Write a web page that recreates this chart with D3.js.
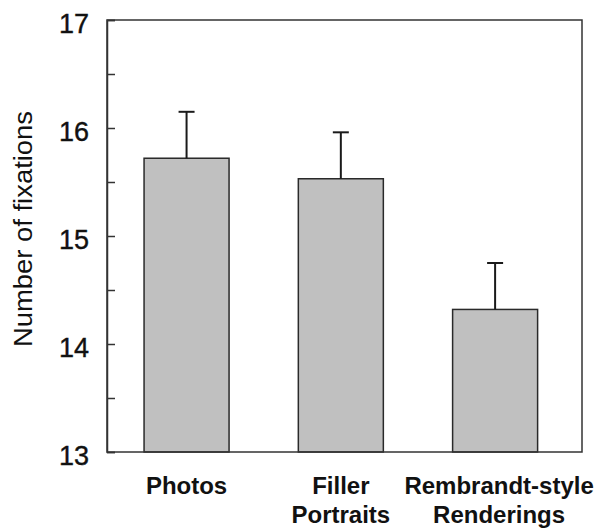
<!DOCTYPE html>
<html><head><meta charset="utf-8">
<script src="https://cdn.jsdelivr.net/npm/d3@7"></script>
<style>body{margin:0;background:#fff}svg{display:block}</style>
</head><body>
<svg id="c" width="600" height="529"></svg>
<script>
const categories = [["Photos"], ["Filler", "Portraits"], ["Rembrandt-style", "Renderings"]];
const means = [15.72, 15.53, 14.32];
const errors = [0.43, 0.43, 0.43];
const yTicks = [13, 14, 15, 16, 17];
const yMinorTicks = [13.5, 14.5, 15.5, 16.5];
const yTitle = "Number of fixations";

const svg = d3.select("#c");
const L = 107, R = 582, T = 20, B = 452;
const keys = categories.map(c => c.join(" "));
const y = d3.scaleLinear().domain([13, 17]).range([B, T]);
const x = d3.scaleBand().domain(keys).range([L, R]).paddingInner(0.449).paddingOuter(0.264).align(0.455);

// bars
svg.selectAll("rect.bar").data(means).join("rect")
  .attr("x", (d, i) => x(keys[i])).attr("width", x.bandwidth())
  .attr("y", d => y(d)).attr("height", d => y(13) - y(d))
  .attr("fill", "#c0c0c0").attr("stroke", "#2a2a2a").attr("stroke-width", 1.5);

// error bars
const eg = svg.append("g").attr("stroke", "#1a1a1a").attr("stroke-width", 2);
means.forEach((m, i) => {
  const cx = x(keys[i]) + x.bandwidth() / 2;
  eg.append("line").attr("x1", cx).attr("x2", cx).attr("y1", y(m)).attr("y2", y(m + errors[i]));
  eg.append("line").attr("x1", cx - 8).attr("x2", cx + 8).attr("y1", y(m + errors[i])).attr("y2", y(m + errors[i]));
});

// frame
svg.append("rect").attr("x", L).attr("y", T).attr("width", R - L).attr("height", B - T)
  .attr("fill", "none").attr("stroke", "#333").attr("stroke-width", 1.5);

// y axis ticks (inside)
const axis = d3.axisRight(y).tickValues(yTicks.concat(yMinorTicks)).tickSize(8).tickFormat("");
const ag = svg.append("g").attr("transform", `translate(${L},0)`).call(axis);
ag.select(".domain").attr("stroke", "#333").attr("stroke-width", 1.5);
ag.selectAll(".tick line").attr("stroke", "#333").attr("stroke-width", 1.5);

// y tick labels
svg.selectAll("text.yt").data(yTicks).join("text")
  .attr("x", 89).attr("y", d => y(d) + 13)
  .attr("text-anchor", "end").attr("font-family", "Liberation Sans, Arial, sans-serif")
  .attr("font-size", 27).attr("fill", "#111").attr("stroke", "#111").attr("stroke-width", 0.4).text(d => d);

// y title
svg.append("text").attr("transform", "translate(32,229) rotate(-90)")
  .attr("text-anchor", "middle").attr("font-family", "Liberation Sans, Arial, sans-serif")
  .attr("font-size", 26).attr("textLength", 236).attr("lengthAdjust", "spacingAndGlyphs")
  .attr("fill", "#111").text(yTitle);

// x labels
categories.forEach((lines, i) => {
  const cx = x(keys[i]) + x.bandwidth() / 2;
  lines.forEach((t, j) => {
    svg.append("text").attr("x", cx + (i === 2 ? 4 : 0)).attr("y", 494 + j * 29)
      .attr("text-anchor", "middle").attr("font-family", "Liberation Sans, Arial, sans-serif")
      .attr("font-weight", "bold").attr("font-size", 24).attr("fill", "#111").text(t);
  });
});
</script>
</body></html>
